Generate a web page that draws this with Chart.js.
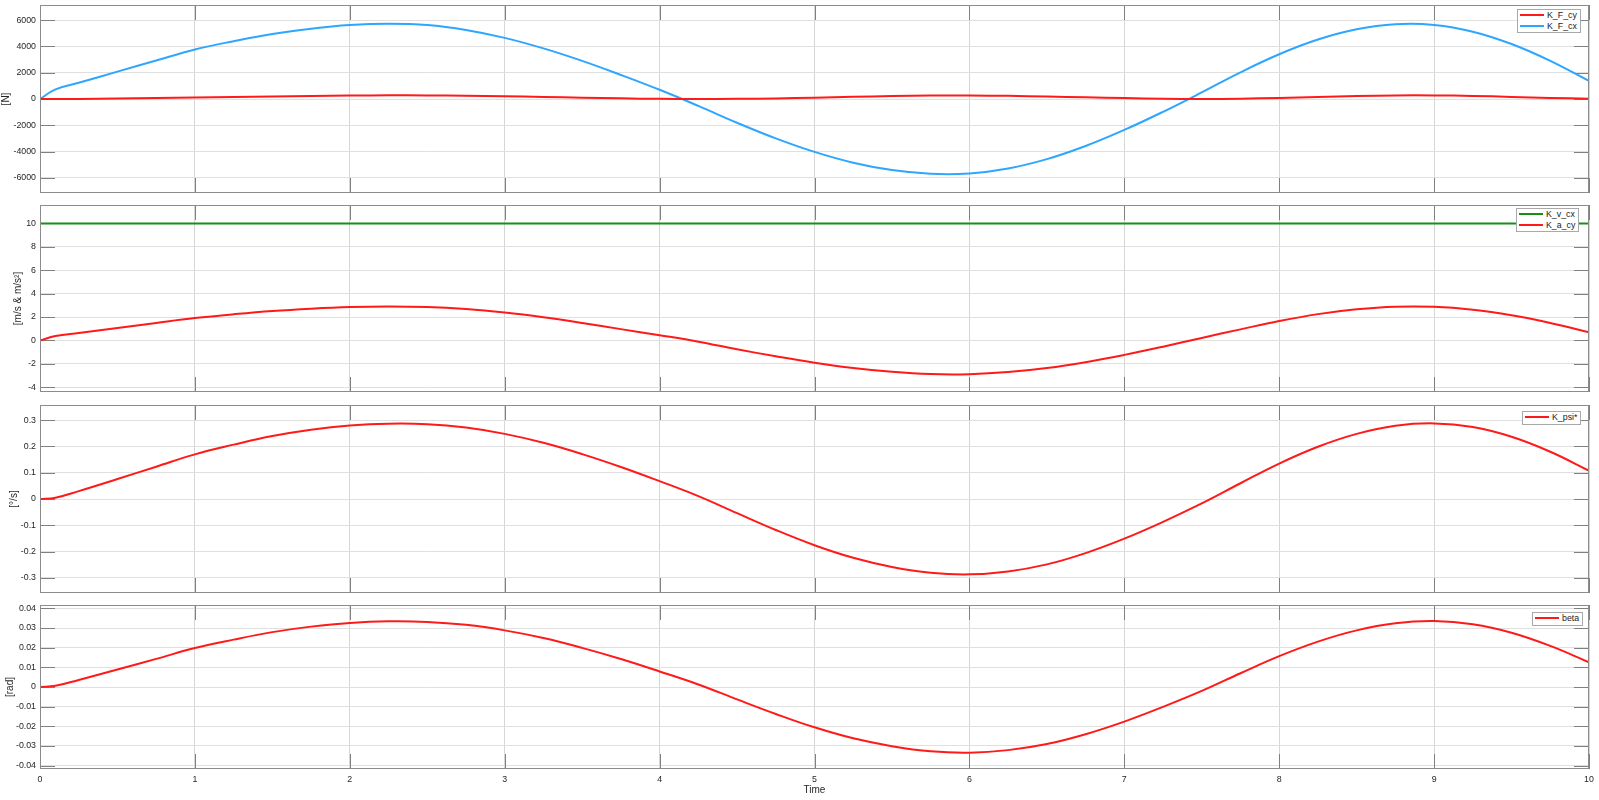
<!DOCTYPE html>
<html><head><meta charset="utf-8">
<script src="https://cdn.jsdelivr.net/npm/chart.js@4.4.1/dist/chart.umd.min.js"></script>
<style>
html,body{margin:0;padding:0;background:#fff;}
#wrap{position:relative;width:1599px;height:800px;overflow:hidden;background:#fff;}
canvas{position:absolute;left:0;}
.lg{position:absolute;background:#fff;border:1px solid #a9a9a9;font:8.8px "Liberation Sans",Arial,sans-serif;color:#1a1a1a;padding:0 3px 1px 2px;}
.lg .row{display:flex;align-items:center;height:10.7px;white-space:nowrap;}
.lg .sw{display:inline-block;width:24px;height:2px;margin-right:3px;}
</style></head><body>
<div id="wrap">
<canvas id="c1" width="1599" height="198" style="top:0px"></canvas>
<canvas id="c2" width="1599" height="207" style="top:195px"></canvas>
<canvas id="c3" width="1599" height="208" style="top:395px"></canvas>
<canvas id="c4" width="1599" height="205" style="top:595px"></canvas>
<div class="lg" style="left:1517px;top:9px">
  <div class="row"><span class="sw" style="background:#ff1a1a"></span>K_F_cy</div>
  <div class="row"><span class="sw" style="background:#2ea6ff"></span>K_F_cx</div>
</div>
<div class="lg" style="left:1516px;top:208px">
  <div class="row"><span class="sw" style="background:#158f15"></span>K_v_cx</div>
  <div class="row"><span class="sw" style="background:#ff1a1a"></span>K_a_cy</div>
</div>
<div class="lg" style="left:1522px;top:411px">
  <div class="row"><span class="sw" style="background:#ff1a1a"></span>K_psi*</div>
</div>
<div class="lg" style="left:1532px;top:612px">
  <div class="row"><span class="sw" style="background:#ff1a1a"></span>beta</div>
</div>
</div>
<script>
// ---- data ----
const times = [0,0.1,0.25,0.5,0.75,1,1.25,1.5,1.75,2,2.25,2.5,2.75,3,3.25,3.5,3.75,4,4.25,4.5,4.75,5,5.25,5.5,5.75,6,6.25,6.5,6.75,7,7.25,7.5,7.75,8,8.25,8.5,8.75,9,9.25,9.5,9.75,10];
const K_F_cy = [0,0,3,40,70,110,150,190,225,260,278,275,250,205,155,100,50,12,0,12,45,100,165,222,258,262,238,190,128,68,22,2,28,85,155,225,268,272,235,160,80,22];
const K_F_cx = [0,730,1230,2080,2930,3770,4400,4950,5350,5620,5715,5620,5250,4650,3850,2900,1830,700,-525,-1807,-2996,-4025,-4847,-5409,-5690,-5663,-5285,-4573,-3573,-2352,-975,502,2028,3402,4522,5303,5686,5634,5120,4182,2903,1373];
const K_v_cx = [10,10,10,10,10,10,10,10,10,10,10,10,10,10,10,10,10,10,10,10,10,10,10,10,10,10,10,10,10,10,10,10,10,10,10,10,10,10,10,10,10,10];
const K_a_cy = [0,0.38,0.64,1.07,1.5,1.91,2.24,2.52,2.72,2.86,2.91,2.86,2.68,2.38,1.98,1.5,0.97,0.45,-0.1,-0.75,-1.35,-1.9,-2.35,-2.68,-2.87,-2.88,-2.7,-2.35,-1.85,-1.23,-0.53,0.22,0.95,1.66,2.25,2.66,2.88,2.87,2.62,2.15,1.5,0.71];
const K_psi = [0,0.005,0.03,0.076,0.123,0.17,0.207,0.24,0.264,0.28,0.287,0.285,0.272,0.248,0.214,0.171,0.122,0.068,0.011,-0.054,-0.118,-0.176,-0.224,-0.259,-0.281,-0.287,-0.276,-0.249,-0.206,-0.151,-0.087,-0.017,0.06,0.135,0.199,0.248,0.279,0.288,0.274,0.237,0.18,0.108];
const beta = [0,0.0006,0.0036,0.0089,0.0143,0.0198,0.0241,0.0279,0.0307,0.0326,0.0334,0.0331,0.0316,0.0288,0.0249,0.0199,0.0142,0.0079,0.0013,-0.0063,-0.0137,-0.0205,-0.0261,-0.0301,-0.0327,-0.0334,-0.0321,-0.029,-0.024,-0.0176,-0.0101,-0.002,0.007,0.0157,0.0231,0.0288,0.0324,0.0335,0.0319,0.0276,0.0209,0.0126];

const xTicks = [0,1,2,3,4,5,6,7,8,9,10];
const yTicks1 = [-6000,-4000,-2000,0,2000,4000,6000];
const yTicks2 = [-4,-2,0,2,4,6,8,10];
const yTicks3 = [-0.3,-0.2,-0.1,0,0.1,0.2,0.3];
const yTicks4 = [-0.04,-0.03,-0.02,-0.01,0,0.01,0.02,0.03,0.04];

const RED = '#ff1a1a', BLUE = '#2ea6ff', GREEN = '#158f15';
const FONT = '"Liberation Sans", Arial, sans-serif';

const frame = {
  id: 'frame',
  beforeDatasetsDraw(chart) {
    const {ctx, chartArea: a, scales: {x, y}} = chart;
    const L = 15;
    ctx.save();
    ctx.strokeStyle = '#808080';
    ctx.lineWidth = 1;
    ctx.beginPath();
    y.ticks.forEach(t => {
      const py = Math.round(y.getPixelForValue(t.value)) + 0.5;
      ctx.moveTo(a.left, py); ctx.lineTo(a.left + L, py);
      ctx.moveTo(a.right, py); ctx.lineTo(a.right - L, py);
    });
    x.ticks.forEach(t => {
      const px = Math.round(x.getPixelForValue(t.value)) + 0.5;
      ctx.moveTo(px, a.bottom); ctx.lineTo(px, a.bottom - L);
      ctx.moveTo(px, a.top); ctx.lineTo(px, a.top + L);
    });
    ctx.stroke();
    ctx.restore();
  },
  afterDatasetsDraw(chart) {
    const {ctx, chartArea: a} = chart;
    ctx.save();
    ctx.strokeStyle = '#8c8c8c';
    ctx.lineWidth = 1;
    ctx.strokeRect(Math.round(a.left) + 0.5, Math.round(a.top) + 0.5, Math.round(a.width) - 1, Math.round(a.height) - 1);
    ctx.restore();
  }
};

function makeChart(id, cfg) {
  return new Chart(document.getElementById(id), {
    type: 'line',
    data: {
      datasets: cfg.series.map(s => ({
        label: s.label,
        data: times.map((t, i) => ({x: t, y: s.values[i]})),
        borderColor: s.color,
        backgroundColor: s.color,
        borderWidth: 2,
        pointRadius: 0,
        tension: 0.4,
        fill: false
      }))
    },
    options: {
      responsive: false,
      animation: false,
      devicePixelRatio: 1,
      layout: {padding: {top: cfg.padTop, bottom: cfg.padBottom, left: 0, right: 10}},
      plugins: {legend: {display: false}, tooltip: {enabled: false}},
      scales: {
        x: {
          type: 'linear', min: 0, max: 10,
          afterBuildTicks: s => { s.ticks = xTicks.map(v => ({value: v})); },
          afterFit: s => { s.height = cfg.xHeight; s.paddingLeft = 0; s.paddingRight = 0; },
          grid: {color: '#d6d6d6', drawTicks: false},
          border: {display: false},
          ticks: {display: cfg.showX, padding: 5, autoSkip: false, maxRotation: 0,
                  font: {family: FONT, size: 8.8}, color: '#262626', callback: v => String(v)},
          title: {display: cfg.showX, text: 'Time', font: {family: FONT, size: 10}, color: '#262626', padding: {top: 0, bottom: 4}}
        },
        y: {
          type: 'linear', min: cfg.min, max: cfg.max,
          afterBuildTicks: s => { s.ticks = cfg.yTicks.map(v => ({value: v})); },
          afterFit: s => { s.width = 40; s.paddingTop = 0; s.paddingBottom = 0; },
          grid: {color: '#e0e0e0', drawTicks: false},
          border: {display: false},
          ticks: {padding: 4, autoSkip: false, font: {family: FONT, size: 8.8}, color: '#262626', callback: v => String(v)},
          title: {display: true, text: cfg.yTitle, font: {family: FONT, size: 10}, color: '#262626', padding: {top: cfg.titlePad, bottom: 0}}
        }
      }
    },
    plugins: [frame]
  });
}

makeChart('c1', {series: [{label: 'K_F_cy', values: K_F_cy, color: RED}, {label: 'K_F_cx', values: K_F_cx, color: BLUE}],
  min: -7150, max: 7150, yTicks: yTicks1, yTitle: '[N]', titlePad: 0.5, padTop: 5, padBottom: 5, xHeight: 0, showX: false});
makeChart('c2', {series: [{label: 'K_v_cx', values: K_v_cx, color: GREEN}, {label: 'K_a_cy', values: K_a_cy, color: RED}],
  min: -4.4, max: 11.57, yTicks: yTicks2, yTitle: '[m/s & m/s²]', titlePad: 12.5, padTop: 10, padBottom: 10, xHeight: 0, showX: false});
makeChart('c3', {series: [{label: 'K_psi*', values: K_psi, color: RED}],
  min: -0.358, max: 0.358, yTicks: yTicks3, yTitle: '[°/s]', titlePad: 8.7, padTop: 10, padBottom: 10, xHeight: 0, showX: false});
makeChart('c4', {series: [{label: 'beta', values: beta, color: RED}],
  min: -0.0417, max: 0.0417, yTicks: yTicks4, yTitle: '[rad]', titlePad: 4, padTop: 10, padBottom: 0, xHeight: 31, showX: true});
</script>
</body></html>
